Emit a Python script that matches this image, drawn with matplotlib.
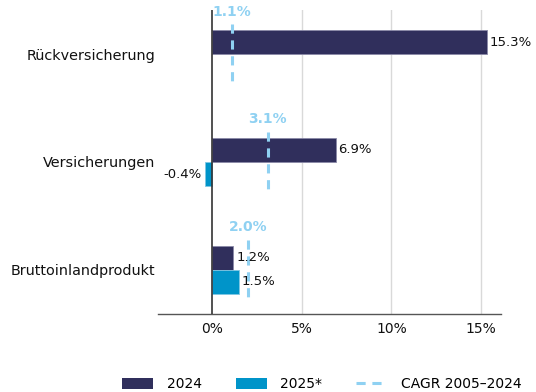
import matplotlib
matplotlib.use("Agg")
import matplotlib.pyplot as plt
from matplotlib.patches import Patch
from matplotlib.lines import Line2D

categories = ["Rückversicherung", "Versicherungen", "Bruttoinlandprodukt"]
values_2024 = [15.3, 6.9, 1.2]
values_2025 = [None, -0.4, 1.5]
cagr = [1.1, 3.1, 2.0]
xticks = [0, 5, 10, 15]
xtick_labels = ["0%", "5%", "10%", "15%"]

c2024 = "#302f5c"
c2025 = "#0094c9"
ccagr = "#8fd1f2"

plt.rcParams["font.family"] = ["DejaVu Sans"]

fig = plt.figure(figsize=(5.36, 3.92), dpi=100)
ax = fig.add_axes([158 / 536, 1 - 314 / 392, (501 - 158) / 536, (314 - 10) / 392])

h = 0.225
ypos = list(range(len(categories)))

for i, (v24, v25, cg) in enumerate(zip(values_2024, values_2025, cagr)):
    ax.barh(i - h / 2, v24, height=h, color=c2024, edgecolor="#8a89a8", linewidth=0.6, zorder=3)
    ax.text(v24 + 0.15, i - h / 2, f"{v24:.1f}%", va="center", ha="left", fontsize=9.5, color="#111111", zorder=5)
    if v25 is not None:
        ax.barh(i + h / 2, v25, height=h, color=c2025, edgecolor="#7fc7e4", linewidth=0.6, zorder=3)
        if v25 < 0:
            ax.text(v25 - 0.15, i + h / 2, f"{v25:.1f}%", va="center", ha="right", fontsize=9.5, color="#111111", zorder=5)
        else:
            ax.text(v25 + 0.15, i + h / 2, f"{v25:.1f}%", va="center", ha="left", fontsize=9.5, color="#111111", zorder=5)
    ax.plot([cg, cg], [i - 0.28, i + 0.29], color=ccagr, linewidth=2.2, linestyle=(0, (3, 2.2)), zorder=4)
    ax.text(cg, i - 0.33, f"{cg:.1f}%", ha="center", va="bottom", fontsize=10, fontweight="bold", color=ccagr, zorder=5)

ax.set_xlim(-3.0, 16.1)
ax.set_ylim(2.41, -0.41)
ax.set_yticks(ypos)
ax.set_yticklabels(categories, fontsize=10.4, color="#111111")
ax.set_xticks(xticks)
ax.set_xticklabels(xtick_labels, fontsize=10, color="#111111")
ax.tick_params(axis="y", length=0, pad=2)
ax.tick_params(axis="x", length=0, pad=6)

for t in xticks[1:]:
    ax.axvline(t, color="#d9d9d9", linewidth=1, zorder=1)
ax.axvline(0, color="#333333", linewidth=1.2, zorder=4)

for s in ["top", "right", "left"]:
    ax.spines[s].set_visible(False)
ax.spines["bottom"].set_color("#555555")
ax.spines["bottom"].set_linewidth(1.0)

handles = [
    Patch(facecolor=c2024, label="2024"),
    Patch(facecolor=c2025, label="2025*"),
    Line2D([0], [0], color=ccagr, linewidth=2.2, linestyle=(0, (3, 2.2)), label="CAGR 2005–2024"),
]
fig.legend(handles=handles, loc="center", bbox_to_anchor=(322 / 536, 1 - 384 / 392), ncol=3,
           frameon=False, fontsize=10, handlelength=2.2, handleheight=0.85, columnspacing=2.45,
           handletextpad=1.0, borderpad=0.2)

fig.savefig("out.png", dpi=100)
